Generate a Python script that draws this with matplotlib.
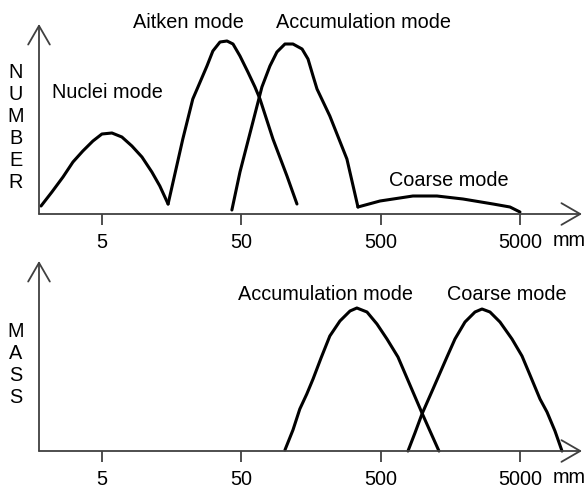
import numpy as np
import matplotlib
matplotlib.use('Agg')
import matplotlib.pyplot as plt

plt.rcParams['font.family'] = ['Liberation Sans', 'DejaVu Sans']

# particle diameter (log scale) and relative height
nuclei_d = [1.83, 2.19, 2.63, 3.10, 3.65, 4.31, 5.00, 5.90, 6.95, 8.20, 9.68, 11.4, 13.0, 14.9]
nuclei_n = [8, 22, 37, 52, 63, 73, 80, 81, 77, 68, 57, 42, 28, 10]

aitken_d = [14.9, 19.0, 22.4, 24.4, 28.3, 31.2, 35.1, 39.4, 43.5, 48.8, 55.6, 62.5, 67.9, 84.1, 106, 125]
aitken_n = [10, 75, 115, 127, 148, 163, 172, 173, 170, 158, 142, 127, 115, 75, 38, 10]

accum_d = [42.7, 48.8, 60.4, 70.1, 80.0, 89.8, 102.5, 117, 136, 150, 163, 174, 215, 285, 342]
accum_n = [4, 42, 92, 127, 148, 162, 170, 170, 165, 155, 138, 125, 98, 55, 7]

coarse_d = [342, 492, 847, 1259, 1935, 3177, 4204, 4957]
coarse_n = [7, 13, 18, 18, 15, 10, 7, 2]

accum_mass_d = [102.5, 117, 131, 147, 163, 186, 215, 254, 300, 336, 397, 468, 552, 662, 807, 984, 1123, 1302]
accum_mass = [1, 21, 42, 57, 72, 93, 115, 130, 140, 143, 139, 127, 112, 94, 66, 38, 20, 0]

coarse_mass_d = [781, 876, 984, 1180, 1324, 1486, 1696, 2001, 2360, 2649, 3022, 3564, 4346,
                 5126, 5849, 6899, 7745, 8836, 9919]
coarse_mass = [0, 18, 37, 62, 78, 94, 112, 129, 139, 142, 139, 129, 112, 95, 76, 52, 39, 20, 0]

ticks = [5, 50, 500, 5000]
tick_labels = ['5', '50', '500', '5000']

W, H = 586, 489
fig = plt.figure(figsize=(W / 100, H / 100), dpi=100)

fs = 14.3
axis_col = '#404040'

def make_axes(top_px, bottom_px):
  ax = fig.add_axes([39 / W, 1 - bottom_px / H, (582 - 39) / W, (bottom_px - top_px) / H])
  ax.set_xscale('log')
  ax.set_xlim(1.77, 13800)
  ax.set_ylim(0, bottom_px - top_px)
  for s in ax.spines.values():
    s.set_visible(False)
  ax.set_yticks([])
  ax.set_xticks(ticks)
  ax.set_xticklabels(tick_labels, fontsize=fs)
  ax.xaxis.set_minor_locator(plt.NullLocator())
  ax.tick_params(axis='x', direction='out', length=8, width=1.3, color=axis_col, pad=5)
  arr = dict(arrowstyle='->,head_length=0.45,head_width=0.26', mutation_scale=30,
             color=axis_col, lw=1.3, shrinkA=0, shrinkB=0)
  ax.annotate('', xy=(1, 0), xytext=(0, 0), xycoords='axes fraction', arrowprops=arr)
  ax.annotate('', xy=(0, 1), xytext=(0, 0), xycoords='axes fraction', arrowprops=arr)
  ax.text(0.9466, -0.135, 'mm', transform=ax.transAxes, fontsize=fs, ha='left', va='center')
  return ax

lw = 2.2
# top panel: number distribution
ax1 = make_axes(25, 215)
for d, n in [(nuclei_d, nuclei_n), (aitken_d, aitken_n), (accum_d, accum_n), (coarse_d, coarse_n)]:
  ax1.plot(d, n, color='black', lw=lw, solid_joinstyle='round', solid_capstyle='round', clip_on=False)
ax1.text(5.5, 215 - 93, 'Nuclei mode', fontsize=fs, ha='center', va='center')
ax1.text(21.0, 215 - 23, 'Aitken mode', fontsize=fs, ha='center', va='center')
ax1.text(5 * 10 ** ((364 - 102) / 139.5), 215 - 23, 'Accumulation mode', fontsize=fs, ha='center', va='center')
ax1.text(5 * 10 ** ((449 - 102) / 139.5), 215 - 180, 'Coarse mode', fontsize=fs, ha='center', va='center')
fig.text(16 / W, 1 - 127 / H, 'N\nU\nM\nB\nE\nR', fontsize=fs, ha='center', va='center',
         linespacing=1.2)

# bottom panel: mass distribution
ax2 = make_axes(262, 452)
for d, m in [(accum_mass_d, accum_mass), (coarse_mass_d, coarse_mass)]:
  ax2.plot(d, m, color='black', lw=lw, solid_joinstyle='round', solid_capstyle='round', clip_on=False)
ax2.text(5 * 10 ** ((326 - 102) / 139.5), 452 - 295, 'Accumulation mode', fontsize=fs, ha='center', va='center')
ax2.text(5 * 10 ** ((507 - 102) / 139.5), 452 - 295, 'Coarse mode', fontsize=fs, ha='center', va='center')
fig.text(16 / W, 1 - 365 / H, 'M\nA\nS\nS', fontsize=fs, ha='center', va='center',
         linespacing=1.2)

fig.savefig('out.png', dpi=100)
